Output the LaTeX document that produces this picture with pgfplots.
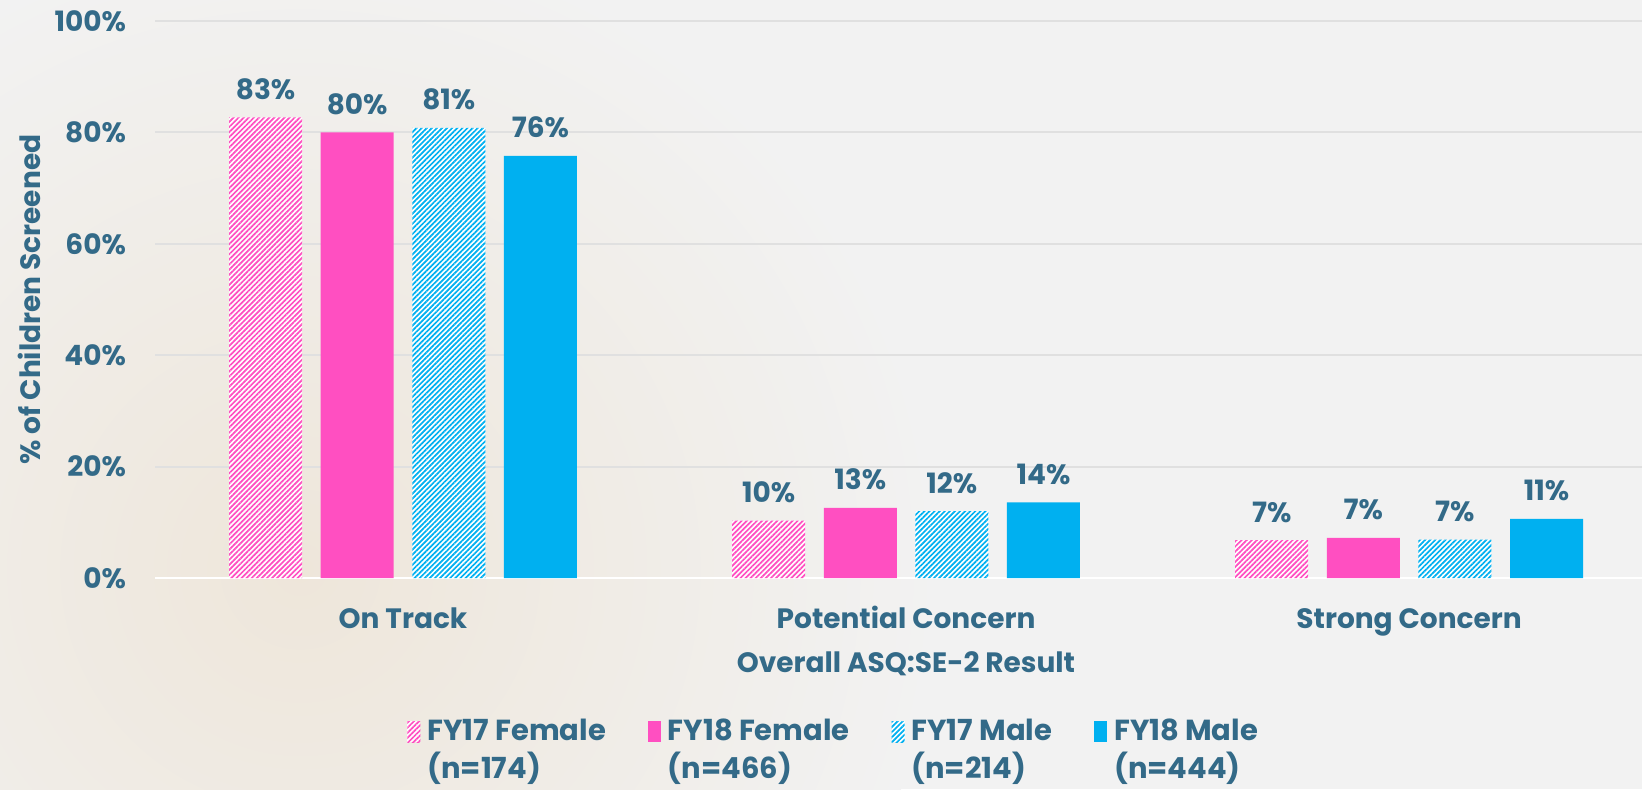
\documentclass[border=0pt]{standalone}
\usepackage{fontspec}
\setmainfont{Poppins}
\usepackage{pgfplots}
\pgfplotsset{compat=1.18}
\usetikzlibrary{patterns.meta}
\definecolor{pinkc}{HTML}{FF4FC1}
\definecolor{bluec}{HTML}{00B0F0}
\definecolor{txt}{HTML}{336A88}
\definecolor{bg}{HTML}{F2F2F2}
\definecolor{beige}{HTML}{EEE6DA}
\definecolor{gridc}{HTML}{E0E0E0}
\begin{document}
\begin{tikzpicture}
\useasboundingbox (0,0) rectangle (821pt,394.5pt);
\fill[bg] (0,0) rectangle (821pt,394.5pt);
\begin{scope}
\clip (0,0) rectangle (821pt,394.5pt);
\shade[inner color=beige, outer color=bg] (150pt,110pt) circle (320pt);
\end{scope}
\begin{axis}[
  at={(77.5pt,105.5pt)}, anchor=south west,
  scale only axis, width=743.5pt, height=278.5pt,
  ybar=9.3pt, bar width=36.5pt,
  xmin=-0.493, xmax=2.463, ymin=0, ymax=100,
  xtick={0,1,2}, xticklabels={On Track,Potential Concern,Strong Concern},
  ytick={0,20,40,60,80,100}, yticklabels={0\%,20\%,40\%,60\%,80\%,100\%},
  major tick length=0,
  axis x line*=bottom, axis y line*=left,
  x axis line style={white, line width=1.2pt, -},
  y axis line style={draw=none},
  ymajorgrids, grid style={gridc, line width=1pt},
  /pgf/number format/assume math mode=true,
  tick label style={font=\fontsize{14}{16}\selectfont\bfseries, text=txt},
  yticklabel style={anchor=east, xshift=-11pt},
  xticklabel style={anchor=base, yshift=-25pt},
  xlabel={Overall ASQ:SE-2 Result},
  ylabel={\% of Children Screened},
  label style={font=\fontsize{14}{16}\selectfont\bfseries, text=txt},
  xlabel style={at={(axis description cs:0.505,0)}, anchor=base, yshift=-47pt},
  ylabel style={at={(axis description cs:-0.0847,0.5)}, anchor=center},
  nodes near coords={\pgfmathprintnumber[fixed,precision=0]{\pgfplotspointmeta}\%},
  every node near coord/.append style={font=\fontsize{14}{16}\selectfont\bfseries, text=txt, anchor=base, yshift=9pt},
  legend columns=4,
  legend style={at={(axis description cs:0.1695,-0.252)}, anchor=north west, draw=none, fill=none, inner sep=0pt,
    font=\fontsize{14.5}{19}\selectfont\bfseries, text=txt,
    /tikz/every odd column/.append style={column sep=3.5pt},
    /tikz/every even column/.append style={column sep=21pt},
    nodes={align=left, inner sep=0pt}},
  legend image code/.code={\path[#1] (0pt,4pt) rectangle (6.5pt,14.5pt);},
]
\addplot[draw=none, fill=white, postaction={pattern={Lines[angle=45,distance=1.8pt,line width=0.85pt]}, pattern color=pinkc}]
  coordinates {(0,82.7) (1,10.3) (2,6.8)};
\addlegendentry{FY17 Female\\(n=174)}
\addplot[draw=none, fill=pinkc]
  coordinates {(0,80.0) (1,12.6) (2,7.2)};
\addlegendentry{FY18 Female\\(n=466)}
\addplot[draw=none, fill=white, postaction={pattern={Lines[angle=45,distance=1.8pt,line width=0.85pt]}, pattern color=bluec}]
  coordinates {(0,80.8) (1,12.0) (2,6.9)};
\addlegendentry{FY17 Male\\(n=214)}
\addplot[draw=none, fill=bluec]
  coordinates {(0,75.8) (1,13.6) (2,10.6)};
\addlegendentry{FY18 Male\\(n=444)}
\end{axis}
\end{tikzpicture}
\end{document}
